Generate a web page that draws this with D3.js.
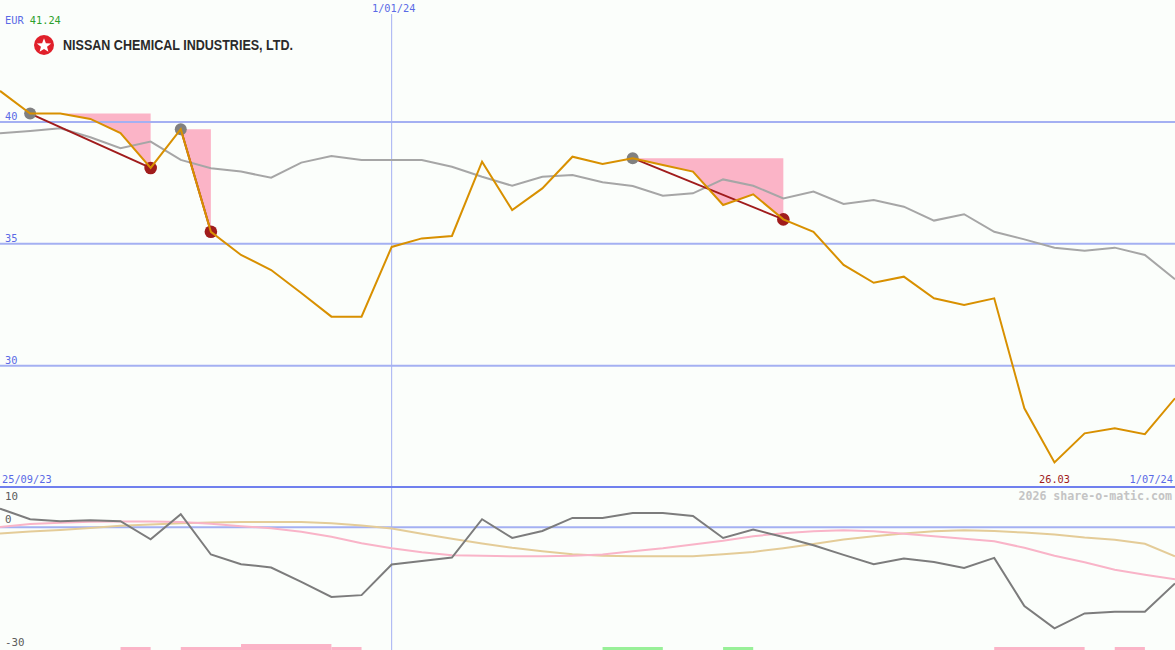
<!DOCTYPE html>
<html>
<head>
<meta charset="utf-8">
<script src="https://cdn.jsdelivr.net/npm/d3@7"></script>
<style>
html,body{margin:0;padding:0;background:#fbfefb;}
svg{display:block;}
</style>
</head>
<body>
<svg id="chart" width="1175" height="650"></svg>
<script>
// ---- data (weekly, 40 points) ----
const dateLabels = ["25/09/23", "1/01/24", "1/07/24"];
const dateLabelIdx = [0, 13, 39];
const price = [41.27,40.34,40.34,40.12,39.54,38.11,39.70,35.49,34.54,33.92,
               32.98,32.01,32.01,34.87,35.22,35.32,38.37,36.38,37.27,38.57,
               38.27,38.51,38.23,37.96,36.59,37.03,36.00,35.49,34.13,33.40,
               33.65,32.76,32.49,32.76,28.25,26.03,27.22,27.43,27.19,28.66];
const movingAvg = [39.53,39.63,39.74,39.37,38.92,39.19,38.44,38.10,37.96,37.71,
                   38.33,38.60,38.44,38.44,38.44,38.16,37.75,37.38,37.75,37.82,
                   37.52,37.37,36.97,37.07,37.64,37.38,36.86,37.14,36.63,36.79,
                   36.52,35.95,36.21,35.49,35.18,34.84,34.71,34.84,34.54,33.54];
const momentum = [4.64,1.99,1.49,1.74,1.49,-2.98,3.23,-6.77,-9.18,-10.0,
                  -13.57,-17.30,-16.87,-9.26,-8.39,-7.52,1.99,-2.66,-0.92,2.31,
                  2.31,3.55,3.55,2.80,-2.66,-0.57,-2.41,-4.47,-6.87,-9.18,
                  -7.77,-8.61,-10.10,-7.62,-19.60,-25.14,-21.41,-21.02,-21.02,-13.97];
const oscPink = [0.07,0.79,1.09,1.34,1.41,1.41,1.31,0.87,0.25,-0.25,
                 -1.12,-2.36,-3.97,-5.21,-6.20,-6.95,-7.10,-7.20,-7.20,-7.07,
                 -6.77,-5.96,-5.21,-4.29,-3.35,-2.23,-1.49,-0.99,-0.74,-0.99,
                 -1.61,-2.23,-2.85,-3.47,-5.09,-7.07,-8.68,-10.55,-11.79,-12.90];
const oscTan = [-1.56,-1.07,-0.69,-0.20,0.37,0.69,0.99,1.19,1.32,1.32,
                1.32,0.99,0.42,-0.32,-1.61,-2.85,-4.04,-5.09,-5.96,-6.70,
                -7.07,-7.20,-7.20,-7.20,-6.70,-6.13,-5.21,-4.17,-3.05,-2.23,
                -1.56,-0.99,-0.74,-0.94,-1.32,-1.79,-2.56,-3.10,-4.09,-7.20];
const priceTicks = [40, 35, 30];
const oscTicks = [10, 0, -30];
const drawPeakIdx = [1, 6, 21];
const drawTroughIdx = [5, 7, 26];
const signalFrom = [4, 6, 8, 11, 20, 24, 33, 37];
const signalTo   = [5, 8, 11, 12, 22, 25, 36, 38];
const signalLevel = [1, 1, 2, 1, -1, -1, 1, 1];
const currency = "EUR";
const lastQuote = "41.24";
const minLabel = "26.03";
const minIdx = 35;
const company = "NISSAN CHEMICAL INDUSTRIES, LTD.";
const credit = "2026 share-o-matic.com";

// ---- drawing ----
const W = 1175, H = 650;
const svg = d3.select("#chart");
const mono = "'DejaVu Sans Mono', 'Liberation Mono', monospace";
const fs = 10.3;

const x = d3.scaleLinear().domain([0, price.length - 1]).range([0, W]);
const y = d3.scaleLinear().domain([25, 45]).range([487.5, 0]);
const y2 = d3.scaleLinear().domain([-30.5, 10]).range([650, 487]);
const sigH = d3.scaleLinear().domain([0, 2]).range([0, 6]);

svg.append("rect").attr("width", W).attr("height", H).attr("fill", "#fbfefb");

// drawdown pink areas
drawPeakIdx.forEach((p, k) => {
  const t = drawTroughIdx[k];
  const idx = d3.range(p, t + 1);
  const area = d3.area()
    .x(i => x(i))
    .y0(() => y(price[p]))
    .y1(i => y(price[i]));
  svg.append("path").attr("d", area(idx)).attr("fill", "#fbb4c7");
});

// grid lines
svg.selectAll("line.grid").data(priceTicks).enter().append("line")
  .attr("x1", 0).attr("x2", W)
  .attr("y1", d => y(d)).attr("y2", d => y(d))
  .attr("stroke", "#a4b0f2").attr("stroke-width", 2);
svg.selectAll("text.ptick").data(priceTicks).enter().append("text")
  .attr("x", 5).attr("y", d => y(d) - 2)
  .attr("font-family", mono).attr("font-size", fs).attr("fill", "#5a6ae6")
  .text(d => d);

// vertical date line
svg.append("line")
  .attr("x1", x(dateLabelIdx[1])).attr("x2", x(dateLabelIdx[1]))
  .attr("y1", 14).attr("y2", H)
  .attr("stroke", "#a4b0f2").attr("stroke-width", 1);

// panel separator
svg.append("line").attr("x1", 0).attr("x2", W).attr("y1", 487).attr("y2", 487)
  .attr("stroke", "#7080ee").attr("stroke-width", 2);

// oscillator zero line
svg.append("line").attr("x1", 0).attr("x2", W).attr("y1", y2(0)).attr("y2", y2(0))
  .attr("stroke", "#a4b0f2").attr("stroke-width", 2);

// moving average
const line = d3.line().x((d, i) => x(i)).y(d => y(d));
svg.append("path").attr("d", line(movingAvg)).attr("fill", "none")
  .attr("stroke", "#a6a6a6").attr("stroke-width", 2);

// drawdown lines and dots
drawPeakIdx.forEach((p, k) => {
  const t = drawTroughIdx[k];
  svg.append("line")
    .attr("x1", x(p)).attr("y1", y(price[p]))
    .attr("x2", x(t)).attr("y2", y(price[t]))
    .attr("stroke", "#a01c1c").attr("stroke-width", 2);
  svg.append("circle").attr("cx", x(p)).attr("cy", y(price[p])).attr("r", 6).attr("fill", "#808080");
  svg.append("circle").attr("cx", x(t)).attr("cy", y(price[t])).attr("r", 6.3).attr("fill", "#a01c1c");
});

// price line
svg.append("path").attr("d", line(price)).attr("fill", "none")
  .attr("stroke", "#d89000").attr("stroke-width", 2);

// oscillator lines
const line2 = d3.line().x((d, i) => x(i)).y(d => y2(d));
svg.append("path").attr("d", line2(oscTan)).attr("fill", "none")
  .attr("stroke", "#e4cc98").attr("stroke-width", 2);
svg.append("path").attr("d", line2(oscPink)).attr("fill", "none")
  .attr("stroke", "#f9b4c8").attr("stroke-width", 2);
svg.append("path").attr("d", line2(momentum)).attr("fill", "none")
  .attr("stroke", "#7c7c7c").attr("stroke-width", 2);

// signal bars
signalFrom.forEach((f, k) => {
  const h = sigH(Math.abs(signalLevel[k]));
  svg.append("rect")
    .attr("x", x(f)).attr("width", x(signalTo[k]) - x(f))
    .attr("y", H - h).attr("height", h)
    .attr("fill", signalLevel[k] > 0 ? "#fbb4c7" : "#98f098");
});

// oscillator tick labels
oscTicks.forEach(t => {
  let yy = y2(t) - 4;
  if (t === 10) yy = 500;
  if (t === -30) yy = 646;
  svg.append("text").attr("x", 5).attr("y", yy)
    .attr("font-family", mono).attr("font-size", fs + 0.5).attr("fill", "#5c5c5c")
    .text(t);
});

// date labels
svg.append("text").attr("x", 2).attr("y", 483)
  .attr("font-family", mono).attr("font-size", fs).attr("fill", "#5a6ae6")
  .text(dateLabels[0]);
svg.append("text").attr("x", x(dateLabelIdx[1]) + 2).attr("y", 12).attr("text-anchor", "middle")
  .attr("font-family", mono).attr("font-size", fs).attr("fill", "#5a6ae6")
  .text(dateLabels[1]);
svg.append("text").attr("x", 1173).attr("y", 483).attr("text-anchor", "end")
  .attr("font-family", mono).attr("font-size", fs).attr("fill", "#5a6ae6")
  .text(dateLabels[2]);
svg.append("text").attr("x", x(minIdx)).attr("y", 483).attr("text-anchor", "middle")
  .attr("font-family", mono).attr("font-size", fs).attr("fill", "#a01c1c")
  .text(minLabel);

// credit
svg.append("text").attr("x", 1172).attr("y", 500).attr("text-anchor", "end")
  .attr("font-family", mono).attr("font-size", 11.6).attr("font-weight", "bold").attr("fill", "#c4c4c4")
  .text(credit);

// currency + quote
const q = svg.append("text").attr("x", 5).attr("y", 24)
  .attr("font-family", mono).attr("font-size", fs);
q.append("tspan").attr("fill", "#5a6ae6").text(currency + " ");
q.append("tspan").attr("fill", "#2ca02c").text(lastQuote);

// logo
svg.append("circle").attr("cx", 44).attr("cy", 45).attr("r", 10).attr("fill", "#e0202a");
const star = d3.range(10).map(i => {
  const a = -Math.PI / 2 + i * Math.PI / 5;
  const r = i % 2 === 0 ? 7.5 : 3.2;
  return [44 + r * Math.cos(a), 45.8 + r * Math.sin(a)];
});
svg.append("path").attr("d", "M" + star.join("L") + "Z").attr("fill", "#ffffff");
svg.append("text").attr("x", 63).attr("y", 50)
  .attr("font-family", "'Liberation Sans', Arial, sans-serif").attr("font-size", 14.5).attr("font-weight", "bold")
  .attr("fill", "#2a2a2a").attr("textLength", 230).attr("lengthAdjust", "spacingAndGlyphs")
  .text(company);
</script>
</body>
</html>
